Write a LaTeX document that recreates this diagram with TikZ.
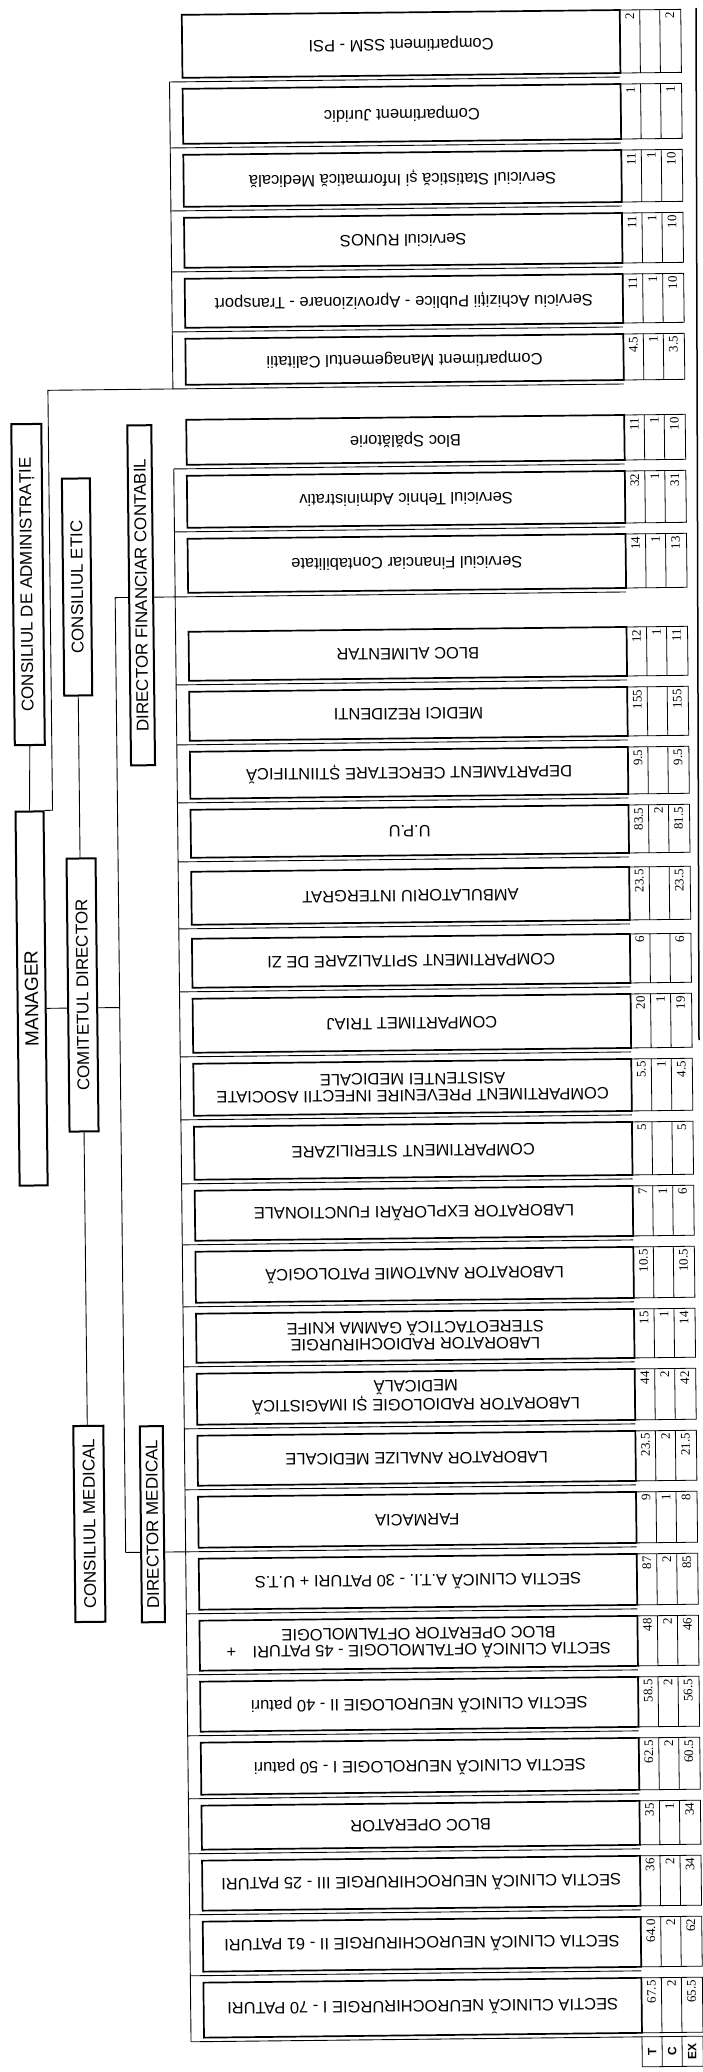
\documentclass[tikz,border=0pt]{standalone}
\usepackage{fontspec}
\setmainfont{Liberation Sans}
\newfontfamily\numfont{Liberation Serif}
\usetikzlibrary{positioning}

% one department row: name, top, bottom, label, T, C, EX
\newcommand{\deptrow}[7]{%
  \node[dbox,minimum height={(#3-#2)*1pt}] (#1) at (412,{(#2+#3)/2}) {#4};
  \draw[numcell] (631,#2) rectangle (692,#3) (651,#2) -- (651,#3) (671,#2) -- (671,#3);
  \node[numtxt] (#1t) at (641,#2) {#5};
  \node[numtxt] (#1c) at (661,#2) {#6};
  \node[numtxt] (#1e) at (681,#2) {#7};
}

\begin{document}
\begin{tikzpicture}[x=1pt,y=-1pt,
  dbox/.style={draw,line width=1.7pt,minimum width=438pt,inner sep=0pt,rotate=180,align=center,
               font=\fontsize{16.5}{16.5}\selectfont},
  abox/.style={draw,line width=2pt,inner sep=0pt,rotate=90,font=\fontsize{17}{17}\selectfont},
  numtxt/.style={rotate=90,anchor=east,inner sep=2.5pt,font=\numfont\fontsize{13}{13}\selectfont},
  hdr/.style={rotate=90,inner sep=0pt,font=\bfseries\fontsize{12}{12}\selectfont},
  numcell/.style={line width=0.8pt},
  sepline/.style={line width=0.9pt},
  conn/.style={line width=0.9pt}]
\fill[white] (0,0) rectangle (702,2072);
\useasboundingbox (0,0) rectangle (702,2072);

\coordinate (edgeT) at (696,8);
\coordinate (edgeB) at (699,1040);
\draw[line width=1.5pt] (edgeT) -- (edgeB);

\begin{scope}[rotate around={0.63:(351,1036)},transform shape]
% management
\node[abox,minimum width=321pt,minimum height=30pt] (cadm) at (33,581) {CONSILIUL DE ADMINISTRAȚIE};
\node[abox,minimum width=374pt,minimum height=28pt,font=\fontsize{19}{19}\selectfont] (mgr) at (32,995) {MANAGER};
\node[abox,minimum width=217pt,minimum height=28pt] (ce) at (82,584) {CONSILIUL ETIC};
\node[abox,minimum width=273pt,minimum height=29pt] (cd) at (83,992) {COMITETUL DIRECTOR};
\node[abox,minimum width=340pt,minimum height=24pt] (dfc) at (146,593) {DIRECTOR FINANCIAR CONTABIL};
\node[abox,minimum width=196pt,minimum height=30pt] (cm) at (84,1521) {CONSILIUL MEDICAL};
\node[abox,minimum width=196pt,minimum height=23pt] (dm) at (147,1522) {DIRECTOR MEDICAL};

\coordinate (tbusT) at (180,80);
\coordinate (tbusB) at (180,387);
\coordinate (fbusT) at (180,467);
\coordinate (mbusT) at (180,595);
\coordinate (mbusB) at (180,2040);
\coordinate (loop) at (55,387);
\coordinate (cdl) at (120,1005);
\coordinate (vtop) at (120,595);
\coordinate (vbot) at (120,1550);
\coordinate (dmj) at (180,1550);

\draw[conn] (cadm.west) -- (mgr.east);
\draw[conn] (mgr.south east) -| (loop) -- (tbusB) -- (tbusT);
\draw[conn] (ce.west) -- (ce.west |- cd.east);
\draw[conn] (cd.west) -- (cd.west |- cm.east);
\draw[conn] (mgr.south |- cdl) -- (cd.north |- cdl);
\draw[conn] (cd.south |- cdl) -- (cdl);
\draw[conn] (vtop) -- (vbot);
\draw[conn] (vtop) -- (dfc.north |- vtop);
\draw[conn] (dfc.south |- vtop) -- (mbusT);
\draw[conn] (vbot) -- (dm.north |- vbot);
\draw[conn] (dm.south |- vbot) -- (dmj);
\draw[conn] (fbusT) -- (mbusT) -- (mbusB);

\foreach \s in {80,146,209,270,330,387,467,530,595,683,743,801,860,927,990,1055,1118,1182,
                1243,1305,1365,1427,1488,1550,1612,1673,1734,1797,1852,1913,1974,2040}
  \draw[sepline] (180,\s) -- (631,\s);

% services
\deptrow{ssm}{13}{76}{Compartiment SSM - PSI}{2}{}{2}
\deptrow{jur}{87}{142}{Compartiment Juridic}{1}{}{1}
\deptrow{stat}{153}{205}{Serviciul Statistică și Informatică Medicală}{11}{1}{10}
\deptrow{runos}{216}{266}{Serviciul RUNOS}{11}{1}{10}
\deptrow{achiz}{277}{326}{Serviciu Achiziții Publice - Aprovizionare - Transport}{11}{1}{10}
\deptrow{cal}{337}{383}{Compartiment Managementul Calitatii}{4.5}{1}{3.5}
% financial
\deptrow{spal}{418}{463}{Bloc Spălătorie}{11}{1}{10}
\deptrow{teh}{474}{526}{Serviciul Tehnic Administrativ}{32}{1}{31}
\deptrow{fin}{537}{591}{Serviciul Financiar Contabilitate}{14}{1}{13}
% medical
\deptrow{alim}{630}{679}{BLOC ALIMENTAR}{12}{1}{11}
\deptrow{rez}{690}{739}{MEDICI REZIDENTI}{155}{}{155}
\deptrow{cerc}{750}{797}{DEPARTAMENT CERCETARE ȘTIINTIFICĂ}{9.5}{}{9.5}
\deptrow{upu}{808}{856}{U.P.U}{83.5}{2}{81.5}
\deptrow{amb}{870}{923}{AMBULATORIU INTERGRAT}{23.5}{}{23.5}
\deptrow{spit}{937}{986}{COMPARTIMENT SPITALIZARE DE ZI}{6}{}{6}
\deptrow{triaj}{997}{1051}{COMPARTIMET TRIAJ}{20}{1}{19}
\deptrow{prev}{1062}{1114}{COMPARTIMENT PREVENIRE INFECTII ASOCIATE\\ASISTENTEI MEDICALE}{5.5}{1}{4.5}
\deptrow{ster}{1125}{1178}{COMPARTIMENT STERILIZARE}{5}{}{5}
\deptrow{expl}{1189}{1239}{LABORATOR EXPLORĂRI FUNCTIONALE}{7}{1}{6}
\deptrow{anat}{1250}{1301}{LABORATOR ANATOMIE PATOLOGICĂ}{10.5}{}{10.5}
\deptrow{rchir}{1312}{1361}{LABORATOR RADIOCHIRURGIE\\STEREOTACTICĂ GAMMA KNIFE}{15}{1}{14}
\deptrow{rad}{1372}{1423}{LABORATOR RADIOLOGIE ȘI IMAGISTICĂ\\MEDICALĂ}{44}{2}{42}
\deptrow{anal}{1434}{1484}{LABORATOR ANALIZE MEDICALE}{23.5}{2}{21.5}
\deptrow{farm}{1495}{1546}{FARMACIA}{9}{1}{8}
\deptrow{ati}{1557}{1608}{SECTIA CLINICĂ A.T.I. - 30 PATURI + U.T.S}{87}{2}{85}
\deptrow{oft}{1619}{1669}{SECTIA CLINICĂ OFTALMOLOGIE - 45 PATURI\quad+\\BLOC OPERATOR OFTALMOLOGIE}{48}{2}{46}
\deptrow{neu2}{1680}{1730}{SECTIA CLINICĂ NEUROLOGIE II - 40 paturi}{58.5}{2}{56.5}
\deptrow{neu1}{1741}{1793}{SECTIA CLINICĂ NEUROLOGIE I - 50 paturi}{62.5}{2}{60.5}
\deptrow{blocop}{1804}{1848}{BLOC OPERATOR}{35}{1}{34}
\deptrow{nch3}{1859}{1909}{SECTIA CLINICĂ NEUROCHIRURGIE III - 25 PATURI}{36}{2}{34}
\deptrow{nch2}{1920}{1970}{SECTIA CLINICĂ NEUROCHIRURGIE II - 61 PATURI}{64.0}{2}{62}
\deptrow{nch1}{1981}{2036}{SECTIA CLINICĂ NEUROCHIRURGIE I - 70 PATURI}{67.5}{2}{65.5}

% column heads
\draw[numcell] (631,2040) rectangle (692,2070) (651,2040) -- (651,2070) (671,2040) -- (671,2070);
\node[hdr] (hT) at (641,2055) {T};
\node[hdr] (hC) at (661,2055) {C};
\node[hdr] (hE) at (681,2055) {EX};
\end{scope}
\end{tikzpicture}
\end{document}
